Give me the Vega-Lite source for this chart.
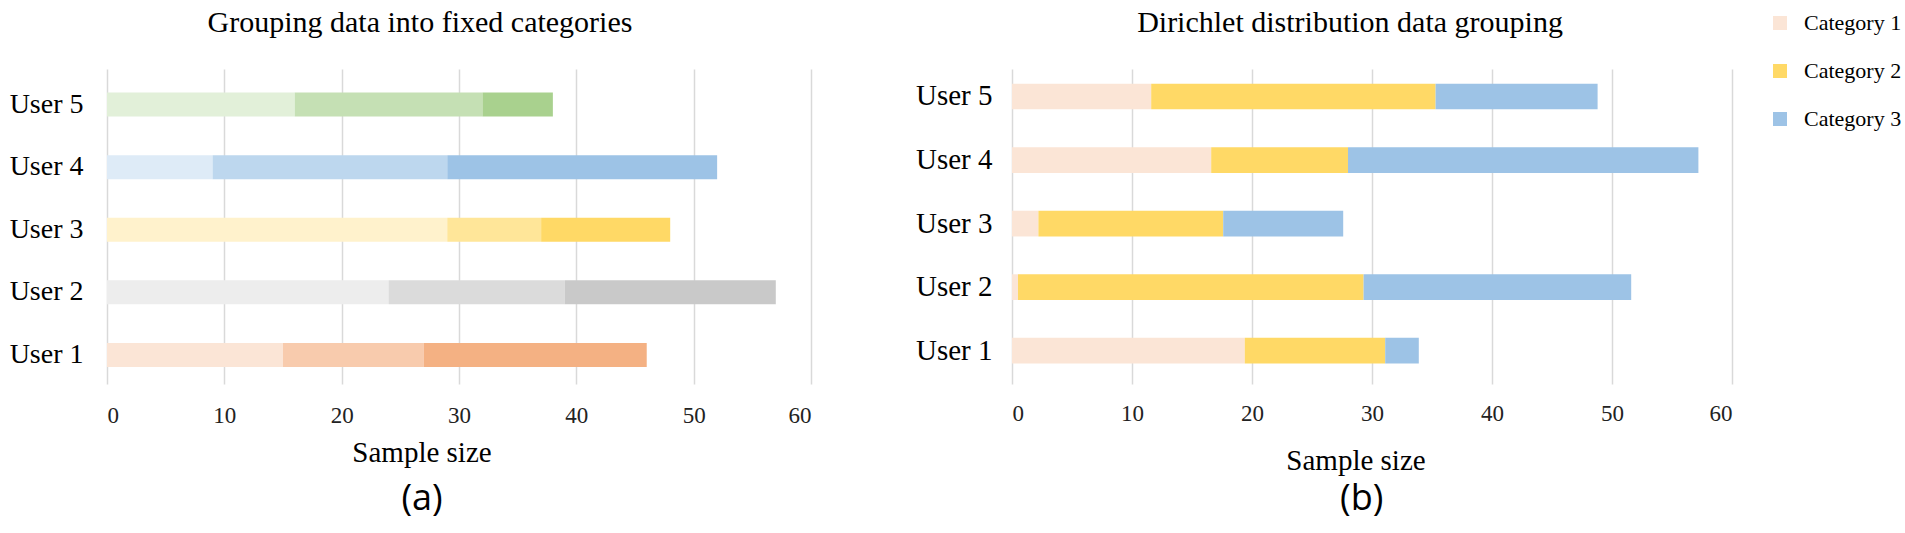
{
  "$schema": "https://vega.github.io/schema/vega-lite/v6.json",
  "background": "white",
  "padding": {"left": 9, "top": 8, "right": 0, "bottom": 0},
  "config": {
    "font": "Liberation Serif",
    "view": {"stroke": null},
    "title": {"font": "Liberation Serif", "fontWeight": "normal", "color": "#000"},
    "axis": {"labelFont": "Liberation Serif", "titleFont": "Liberation Serif", "titleFontWeight": "normal"}
  },
  "spacing": 104,
  "resolve": {"scale": {"color": "independent"}, "legend": {"color": "independent"}},
  "hconcat": [
    {
      "title": {"text": "(a)", "orient": "bottom", "font": "Open Sans", "fontSize": 36, "fontWeight": "normal", "color": "#000", "anchor": "middle", "offset": 14, "dx": 12},
      "hconcat": [
        {
          "width": 704,
          "height": 315,
          "title": {"text": "Grouping data into fixed categories", "fontSize": 30, "anchor": "middle", "frame": "group", "dx": -39, "baseline": "alphabetic", "offset": 7},
          "data": {"values": [
            {"user": "User 1", "part": 1, "series": "User 1 part 1", "value": 15},
            {"user": "User 1", "part": 2, "series": "User 1 part 2", "value": 12},
            {"user": "User 1", "part": 3, "series": "User 1 part 3", "value": 19},
            {"user": "User 2", "part": 1, "series": "User 2 part 1", "value": 24},
            {"user": "User 2", "part": 2, "series": "User 2 part 2", "value": 15},
            {"user": "User 2", "part": 3, "series": "User 2 part 3", "value": 18},
            {"user": "User 3", "part": 1, "series": "User 3 part 1", "value": 29},
            {"user": "User 3", "part": 2, "series": "User 3 part 2", "value": 8},
            {"user": "User 3", "part": 3, "series": "User 3 part 3", "value": 11},
            {"user": "User 4", "part": 1, "series": "User 4 part 1", "value": 9},
            {"user": "User 4", "part": 2, "series": "User 4 part 2", "value": 20},
            {"user": "User 4", "part": 3, "series": "User 4 part 3", "value": 23},
            {"user": "User 5", "part": 1, "series": "User 5 part 1", "value": 16},
            {"user": "User 5", "part": 2, "series": "User 5 part 2", "value": 16},
            {"user": "User 5", "part": 3, "series": "User 5 part 3", "value": 6}
          ]},
          "mark": {"type": "bar"},
          "encoding": {
            "y": {
              "field": "user", "type": "nominal",
              "sort": ["User 5", "User 4", "User 3", "User 2", "User 1"],
              "scale": {"paddingInner": 0.617, "paddingOuter": 0.3245, "align": 0.58},
              "axis": {"title": null, "domain": false, "ticks": false, "grid": false, "labelFont": "Liberation Serif", "labelFontSize": 28, "labelColor": "#000", "labelPadding": 24}
            },
            "x": {
              "field": "value", "type": "quantitative", "stack": "zero",
              "scale": {"domain": [0, 60], "nice": false},
              "axis": {"values": [0, 10, 20, 30, 40, 50, 60], "title": "Sample size", "domain": false, "ticks": false, "grid": true, "gridColor": "#d9d9d9", "gridWidth": 1.5, "labelFont": "Liberation Serif", "labelFontSize": 23, "labelColor": "#222", "labelPadding": 20.5, "titleFont": "Liberation Serif", "titleFontSize": 29, "titleColor": "#000", "titleX": 314.5, "titleY": 77.5, "titleBaseline": "alphabetic"}
            },
            "color": {
              "field": "series", "type": "nominal", "legend": null,
              "scale": {
                "domain": ["User 1 part 1", "User 1 part 2", "User 1 part 3", "User 2 part 1", "User 2 part 2", "User 2 part 3", "User 3 part 1", "User 3 part 2", "User 3 part 3", "User 4 part 1", "User 4 part 2", "User 4 part 3", "User 5 part 1", "User 5 part 2", "User 5 part 3"],
                "range": ["#fbe5d6", "#f8cbad", "#f4b183", "#ededed", "#dbdbdb", "#c9c9c9", "#fff2cc", "#ffe699", "#ffd966", "#deebf7", "#bdd7ee", "#9dc3e6", "#e2f0d9", "#c5e0b4", "#a9d18e"]
              }
            },
            "order": {"field": "part", "type": "quantitative"}
          }
        }
      ]
    },
    {
      "title": {"text": "(b)", "orient": "bottom", "font": "Open Sans", "fontSize": 36, "fontWeight": "normal", "color": "#000", "anchor": "middle", "offset": 6, "dx": -47},
      "hconcat": [
        {
          "width": 720,
          "height": 315,
          "title": {"text": "Dirichlet distribution data grouping", "fontSize": 30, "anchor": "middle", "frame": "group", "dx": -22, "baseline": "alphabetic", "offset": 7},
          "data": {"values": [
            {"user": "User 1", "category": "Category 1", "value": 19.4},
            {"user": "User 1", "category": "Category 2", "value": 11.7},
            {"user": "User 1", "category": "Category 3", "value": 2.8},
            {"user": "User 2", "category": "Category 1", "value": 0.5},
            {"user": "User 2", "category": "Category 2", "value": 28.8},
            {"user": "User 2", "category": "Category 3", "value": 22.3},
            {"user": "User 3", "category": "Category 1", "value": 2.2},
            {"user": "User 3", "category": "Category 2", "value": 15.4},
            {"user": "User 3", "category": "Category 3", "value": 10.0},
            {"user": "User 4", "category": "Category 1", "value": 16.6},
            {"user": "User 4", "category": "Category 2", "value": 11.4},
            {"user": "User 4", "category": "Category 3", "value": 29.2},
            {"user": "User 5", "category": "Category 1", "value": 11.6},
            {"user": "User 5", "category": "Category 2", "value": 23.7},
            {"user": "User 5", "category": "Category 3", "value": 13.5}
          ]},
          "mark": {"type": "bar"},
          "encoding": {
            "y": {
              "field": "user", "type": "nominal",
              "sort": ["User 5", "User 4", "User 3", "User 2", "User 1"],
              "scale": {"paddingInner": 0.595, "paddingOuter": 0.276, "align": 0.417},
              "axis": {"title": null, "domain": false, "ticks": false, "grid": false, "labelFont": "Liberation Serif", "labelFontSize": 29, "labelColor": "#000", "labelPadding": 20}
            },
            "x": {
              "field": "value", "type": "quantitative", "stack": "zero",
              "scale": {"domain": [0, 60], "nice": false},
              "axis": {"values": [0, 10, 20, 30, 40, 50, 60], "title": "Sample size", "domain": false, "ticks": false, "grid": true, "gridColor": "#d9d9d9", "gridWidth": 1.5, "labelFont": "Liberation Serif", "labelFontSize": 23, "labelColor": "#222", "labelPadding": 18, "titleFont": "Liberation Serif", "titleFontSize": 29, "titleColor": "#000", "titleX": 343.5, "titleY": 85.5, "titleBaseline": "alphabetic"}
            },
            "color": {
              "field": "category", "type": "nominal",
              "scale": {"domain": ["Category 1", "Category 2", "Category 3"], "range": ["#fbe5d6", "#ffd966", "#9dc3e6"]},
              "legend": {"orient": "none", "legendX": 757, "legendY": -57, "title": null, "symbolType": "square", "symbolSize": 196, "symbolStrokeWidth": 0, "symbolOpacity": 1, "labelFont": "Liberation Serif", "labelFontSize": 22, "labelColor": "#000", "labelOffset": 13, "rowPadding": 26, "padding": 0}
            },
            "order": {"field": "category", "type": "nominal"}
          }
        }
      ]
    }
  ]
}
